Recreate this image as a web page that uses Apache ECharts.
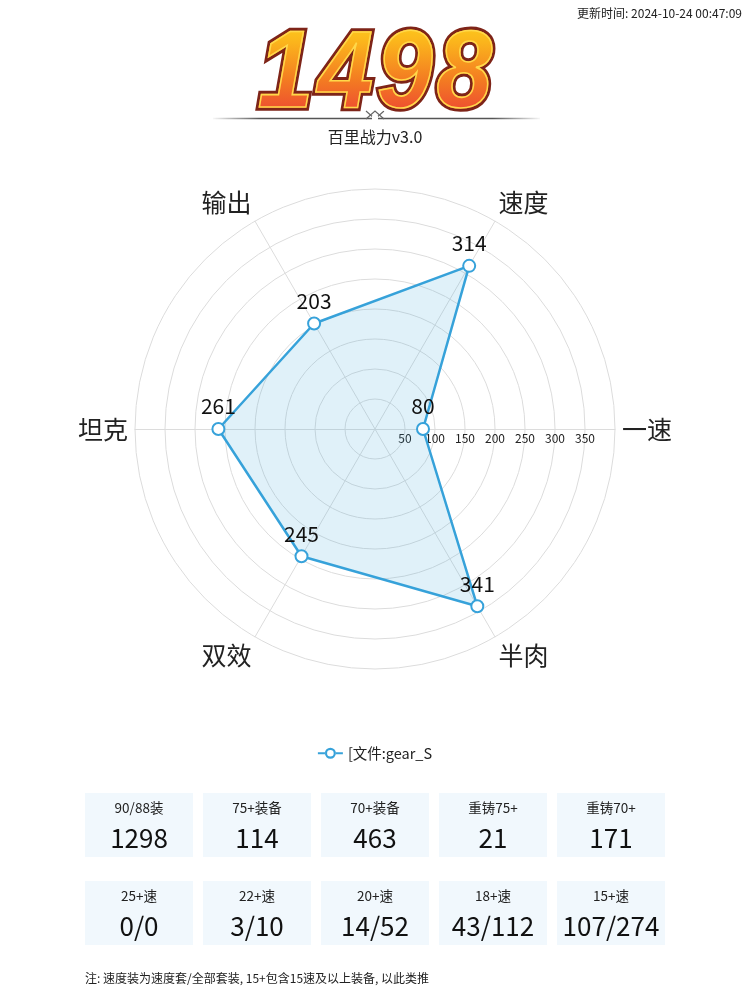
<!DOCTYPE html>
<html>
<head>
<meta charset="utf-8">
<script src="https://cdn.jsdelivr.net/npm/echarts@6/dist/echarts.min.js"></script>
<style>
html,body{margin:0;padding:0;background:#fff;}
#wrap{position:relative;width:750px;height:1003px;}
#main{width:750px;height:1003px;}
.score{position:absolute;left:0;top:10px;width:750px;text-align:center;
  font:italic bold 100px "Liberation Sans", Arial, sans-serif;line-height:116px;letter-spacing:4px;padding-left:4px;box-sizing:border-box;
  transform:scaleY(1.1);transform-origin:50% 50%;pointer-events:none;}
.s1{color:transparent;-webkit-text-stroke:14px #fff;text-shadow:0 3px 5px rgba(0,0,0,0.3);}
.s2{color:transparent;-webkit-text-stroke:7px #7e2418;}
.s3{color:transparent;background:linear-gradient(180deg,#ffe31c 0%,#fbb41c 30%,#f37a22 60%,#ee5030 82%,#f4708e 100%);
  -webkit-background-clip:text;background-clip:text;-webkit-text-stroke:1.5px #ffd84a;}
</style>
</head>
<body>
<div id="wrap">
<div id="main"></div>
<div class="score s1" id="sc1"></div>
<div class="score s2" id="sc2"></div>
<div class="score s3" id="sc3"></div>
</div>
<script>
// ---- data ----
var updateTime = '更新时间: 2024-10-24 00:47:09';
var score = '1498';
var subtitle = '百里战力v3.0';
var indicatorNames = ['一速', '速度', '输出', '坦克', '双效', '半肉'];
var indicatorMax = 400;
var seriesName = '[文件:gear_S';
var seriesValues = [80, 314, 203, 261, 245, 341];
var row1Labels = ['90/88装', '75+装备', '70+装备', '重铸75+', '重铸70+'];
var row1Values = ['1298', '114', '463', '21', '171'];
var row2Labels = ['25+速', '22+速', '20+速', '18+速', '15+速'];
var row2Values = ['0/0', '3/10', '14/52', '43/112', '107/274'];
var note = '注: 速度装为速度套/全部套装, 15+包含15速及以上装备, 以此类推';

['sc1','sc2','sc3'].forEach(function (id) { document.getElementById(id).textContent = score; });

var FONT = '"Noto Sans CJK SC", "Noto Sans", sans-serif';
var chart = echarts.init(document.getElementById('main'));

var graphics = [];
graphics.push({type:'text', right: 8, top: 7, style:{text:updateTime, fill:'#222', font:'12px ' + FONT}});
// separator line
graphics.push({type:'line', shape:{x1:213, y1:118.5, x2:540, y2:118.5}, style:{
  stroke: new echarts.graphic.LinearGradient(0,0,1,0,[
    {offset:0,color:'rgba(80,80,80,0)'},{offset:0.15,color:'#555'},{offset:0.85,color:'#555'},{offset:1,color:'rgba(80,80,80,0)'}]),
  lineWidth:1.5}});
graphics.push({type:'polyline', shape:{points:[[366,111],[375,119],[384,111]]}, style:{stroke:'#666', lineWidth:1.2, fill:null}});
graphics.push({type:'polyline', shape:{points:[[366,119],[375,111],[384,119]]}, style:{stroke:'#666', lineWidth:1.2, fill:null}});
graphics.push({type:'rect', shape:{x:372, y:116, width:6, height:5}, style:{fill:'#fff'}});
graphics.push({type:'text', x:375, y:137, style:{text:subtitle, align:'center', verticalAlign:'middle', fill:'#222', font:'16px ' + FONT}});

function addRow(labels, values, top) {
  for (var i = 0; i < labels.length; i++) {
    var cx = 139 + i * 118;
    graphics.push({type:'rect', shape:{x:cx - 54, y:top, width:108, height:64}, style:{fill:'#f1f8fd'}});
    graphics.push({type:'text', x:cx, y:top + 15, style:{text:labels[i], align:'center', verticalAlign:'middle', fill:'#222', font:'13.5px ' + FONT}});
    graphics.push({type:'text', x:cx, y:top + 45, style:{text:values[i], align:'center', verticalAlign:'middle', fill:'#111', font:'26px ' + FONT}});
  }
}
addRow(row1Labels, row1Values, 793);
addRow(row2Labels, row2Values, 881);
graphics.push({type:'text', x:85, y:978, style:{text:note, verticalAlign:'middle', fill:'#222', font:'12px ' + FONT}});

var vAligns = ['middle', 'bottom', 'bottom', 'middle', 'top', 'top'];
var indicators = indicatorNames.map(function (n, i) {
  var o = {name: n, max: indicatorMax, nameTextStyle: {verticalAlign: vAligns[i]}};
  if (i === 0) {
    o.axisLabel = {show: true, color: '#222', fontSize: 12, fontFamily: FONT, margin: -3, verticalAlign: 'top',
      formatter: function (v) { return (v === 0 || v === indicatorMax) ? '' : v; }};
  }
  return o;
});

var option = {
  animation: false,
  textStyle: {fontFamily: FONT},
  legend: {
    top: 741, left: 'center', itemWidth: 25, itemHeight: 12, itemGap: 8,
    textStyle: {fontSize: 14.5, color: '#222', fontFamily: FONT},
    data: [{name: seriesName, icon: 'path://M0 5H7.2V7H0Z M17.8 5H25V7H17.8Z M7 6A5.5 5.5 0 1 0 18 6A5.5 5.5 0 1 0 7 6Z M9.2 6A3.3 3.3 0 1 1 15.8 6A3.3 3.3 0 1 1 9.2 6Z'}]
  },
  radar: {
    center: [375, 429], radius: 240, startAngle: 0, shape: 'circle', splitNumber: 8,
    indicator: indicators,
    axisName: {color: '#222', fontSize: 25, fontFamily: FONT},
    nameGap: 7,
    splitLine: {lineStyle: {color: '#dcdcdc', width: 1}},
    splitArea: {show: false},
    axisLine: {lineStyle: {color: '#dcdcdc'}},
    axisTick: {show: false},
    axisLabel: {show: false}
  },
  series: [{
    type: 'radar', name: seriesName,
    symbol: 'emptyCircle', symbolSize: 12,
    lineStyle: {color: '#37a2da', width: 2.5},
    itemStyle: {color: '#37a2da', borderWidth: 2.5},
    areaStyle: {color: 'rgba(55,162,218,0.22)'},
    label: {show: true, position: 'top', distance: 5, fontSize: 21, color: '#111', fontFamily: FONT},
    data: [{value: seriesValues, name: seriesName}]
  }],
  graphic: graphics
};
chart.setOption(option);
</script>
</body>
</html>
